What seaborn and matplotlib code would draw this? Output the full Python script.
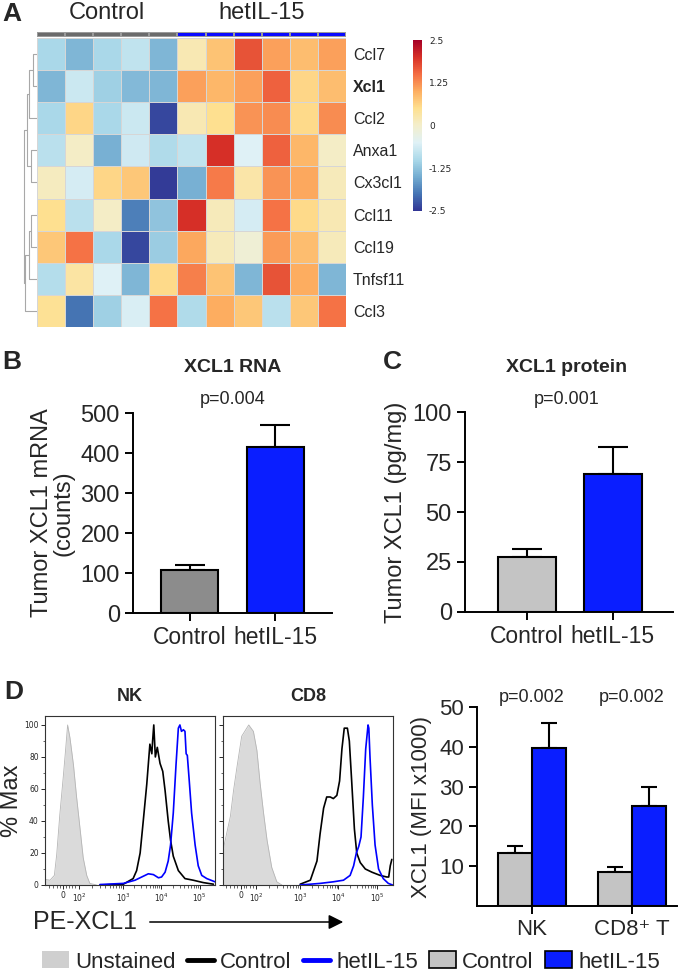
import numpy as np
import pandas as pd
import matplotlib
matplotlib.use("Agg")
import matplotlib.pyplot as plt
import matplotlib.transforms as mtransforms
import seaborn as sns
from matplotlib.colors import ListedColormap, LinearSegmentedColormap
from matplotlib.patches import Patch, FancyArrowPatch
from matplotlib.lines import Line2D

# ---------------- data ----------------
genes = ["Ccl7", "Xcl1", "Ccl2", "Anxa1", "Cx3cl1", "Ccl11", "Ccl19", "Tnfsf11", "Ccl3"]
samples = ["C1", "C2", "C3", "C4", "C5", "H1", "H2", "H3", "H4", "H5", "H6"]
sample_groups = ["Control"] * 5 + ["hetIL-15"] * 6
heat_ccl7 = [-1.0, -1.4, -1.0, -0.8, -1.4, 0.2, 0.8, 1.7, 1.1, 0.85, 1.1]
heat_xcl1 = [-1.4, -0.7, -1.1, -1.35, -1.4, 1.1, 0.9, 1.1, 1.6, 0.6, 0.85]
heat_ccl2 = [-1.0, 0.6, -1.0, -0.7, -2.35, 0.2, 0.5, 1.2, 1.25, 0.55, 1.25]
heat_anxa1 = [-0.85, 0.05, -1.45, -0.65, -0.95, -0.8, 2.0, -0.5, 1.6, 0.9, 0.05]
heat_cx3cl1 = [0.1, -0.6, 0.6, 0.75, -2.45, -1.45, 1.4, 0.3, 1.2, 1.05, 0.15]
heat_ccl11 = [0.5, -0.85, 0.05, -1.9, -1.25, 2.0, 0.15, -0.6, 1.45, 0.55, 0.2]
heat_ccl19 = [0.75, 1.45, -1.0, -2.35, -1.15, 1.05, 0.15, -0.1, 1.15, 0.85, 0.15]
heat_tnfsf11 = [-0.9, 0.35, -0.5, -1.4, 0.55, 1.35, 0.8, -1.4, 1.7, 1.0, -1.4]
heat_ccl3 = [0.45, -2.0, -1.1, -0.55, 1.45, -0.95, 1.0, 0.75, -0.85, 0.75, 1.45]
# dendrogram merges: (node a, node b, height); new nodes numbered from 9
dendro_merges = [(0, 1, 0.28), (3, 4, 0.45), (5, 6, 0.45), (9, 2, 0.65),
                 (11, 7, 0.6), (12, 10, 0.8), (13, 8, 0.92), (14, 15, 1.0)]
cbar_ticks = [2.5, 1.25, 0, -1.25, -2.5]
heat_colors = ["#313695", "#4575b4", "#74add1", "#abd9e9", "#dff1f6", "#f3eecc",
               "#fee090", "#fdae61", "#f46d43", "#d73027", "#a50026"]

rna_groups = ["Control", "hetIL-15"]
rna_mean = [107, 416]
rna_sem = [14, 53]
prot_mean = [27.3, 68.9]
prot_sem = [4.1, 13.5]

mfi_cells = ["NK", "CD8\u207a T"]
mfi_ctrl = [13.4, 8.6]
mfi_ctrl_sem = [1.6, 1.2]
mfi_het = [39.7, 25.1]
mfi_het_sem = [6.3, 4.8]
mfi_p = ["p=0.002", "p=0.002"]

# flow histograms (x in biexponential display units, y in % of max)
flow_tick_pos = [1.47, 1.87, 3.0, 3.98, 4.97]
flow_tick_lab = ["0", "$10^2$", "$10^3$", "$10^4$", "$10^5$"]
nk_uns_x = [1.00, 1.13, 1.24, 1.30, 1.38, 1.47, 1.53, 1.58, 1.64, 1.73, 1.81, 1.90, 1.98, 2.07, 2.15, 2.32]
nk_uns_y = [3.5, 3.0, 6, 19, 44, 68, 85, 100, 92, 75, 55, 35, 17, 6, 1, 0]
nk_ctl_x = [2.41, 3.01, 3.26, 3.35, 3.44, 3.52, 3.61, 3.69, 3.74, 3.76, 3.79, 3.83, 3.88, 3.95, 4.02,
            4.08, 4.16, 4.22, 4.29, 4.42, 4.59, 4.80, 5.06, 5.32]
nk_ctl_y = [0, 0.5, 4, 9, 20, 40, 63, 88, 82, 90, 100, 80, 86, 76, 71, 59, 40, 28, 18, 9, 4, 3, 1.5, 0.5]
nk_het_x = [2.41, 3.01, 3.31, 3.48, 3.65, 3.78, 3.91, 3.99, 4.08, 4.16, 4.22, 4.29, 4.36, 4.42, 4.46,
            4.50, 4.55, 4.59, 4.62, 4.65, 4.70, 4.76, 4.85, 4.93, 5.02, 5.15, 5.36]
nk_het_y = [0.3, 1, 3, 5, 7, 6.5, 4.5, 5, 8, 15, 25, 45, 75, 98, 100, 96, 97, 96, 82, 81, 65, 45, 25, 12, 6, 4, 2]
cd8_uns_x = [1.02, 1.05, 1.21, 1.29, 1.38, 1.50, 1.68, 1.80, 1.89, 1.97, 2.06, 2.15, 2.27, 2.40, 2.53]
cd8_uns_y = [20, 25, 43, 59, 74, 93, 100, 96, 84, 64, 45, 28, 11, 2, 0]
cd8_ctl_x = [3.00, 3.26, 3.43, 3.51, 3.60, 3.68, 3.77, 3.85, 3.94, 4.01, 4.07, 4.13, 4.21, 4.26, 4.32,
             4.39, 4.45, 4.54, 4.67, 4.84, 5.05, 5.22, 5.27, 5.31, 5.35]
cd8_ctl_y = [0.5, 3, 15, 32, 48, 55, 55, 54, 56, 65, 85, 98, 98, 90, 65, 35, 20, 14, 10, 8, 6, 5, 5, 12, 16]
cd8_het_x = [3.00, 3.51, 3.85, 4.11, 4.28, 4.37, 4.44, 4.50, 4.56, 4.62, 4.68, 4.74, 4.76, 4.79, 4.85,
             4.92, 5.01, 5.13, 5.26, 5.37]
cd8_het_y = [0, 1, 2, 3, 6, 12, 20, 24, 30, 55, 85, 100, 98, 80, 50, 25, 10, 4, 1, 0]

# ---------------- style ----------------
sns.set_style("ticks")
plt.rcParams["font.family"] = ["Liberation Sans", "DejaVu Sans"]
plt.rcParams["mathtext.fontset"] = "dejavusans"

W, H = 678, 973
fig = plt.figure(figsize=(W / 100, H / 100), dpi=100)


def add_ax(l, t, r, b):
    return fig.add_axes([l / W, 1 - b / H, (r - l) / W, (b - t) / H])


def ftext(x, y, s, **kw):
    fig.text(x / W, 1 - y / H, s, **kw)


GRAY_D = "#8c8c8c"
GRAY_L = "#c4c4c4"
BLUE = "#0a1eff"

# ---------------- Panel A: heatmap ----------------
heat = pd.DataFrame([heat_ccl7, heat_xcl1, heat_ccl2, heat_anxa1, heat_cx3cl1,
                     heat_ccl11, heat_ccl19, heat_tnfsf11, heat_ccl3],
                    index=genes, columns=samples)
cmap = LinearSegmentedColormap.from_list("rdylbu_custom", heat_colors)
ax_hm = add_ax(37, 38, 346, 327)
ax_cb = add_ax(413, 40, 422, 211)
sns.heatmap(heat, ax=ax_hm, cmap=cmap, vmin=-2.5, vmax=2.5,
            linewidths=0.6, linecolor="#d6d6d6", cbar_ax=ax_cb,
            xticklabels=False, yticklabels=True)
ax_hm.yaxis.tick_right()
ax_hm.tick_params(axis="y", length=0, pad=5, labelsize=11.5, labelrotation=0)
ax_hm.set_xlabel("")
ax_hm.set_ylabel("")
for lab in ax_hm.get_yticklabels():
    lab.set_rotation(0)
    if lab.get_text() == "Xcl1":
        lab.set_fontweight("bold")

cbar = ax_hm.collections[0].colorbar
cbar.set_ticks(cbar_ticks)
cbar.set_ticklabels([f"{t:g}" for t in cbar_ticks])
cbar.outline.set_visible(False)
cbar.ax.tick_params(length=0, labelsize=6.5, pad=5)
for lab in cbar.ax.get_yticklabels():
    lab.set_family("DejaVu Sans")

# annotation bar
ax_ann = add_ax(37, 32, 346, 36.5)
codes = np.array([[0 if g == "Control" else 1 for g in sample_groups]])
sns.heatmap(codes, ax=ax_ann, cmap=ListedColormap(["#6b6b6b", "#0a0aff"]), cbar=False,
            xticklabels=False, yticklabels=False, linewidths=0.3, linecolor="#9a9a9a")

# group headings
blend = mtransforms.blended_transform_factory(ax_hm.transData, fig.transFigure)
for grp in ["Control", "hetIL-15"]:
    idx = [i for i, g in enumerate(sample_groups) if g == grp]
    xc = (min(idx) + max(idx) + 1) / 2
    ax_hm.text(xc, 1 - 13 / H, grp, transform=blend, ha="center", va="center", fontsize=17)

# dendrogram
ax_d = add_ax(22, 38, 37, 327)
pos = {i: (0.0, i + 0.5) for i in range(len(genes))}
for k, (a, b, h) in enumerate(dendro_merges):
    xa, ya = pos[a]
    xb, yb = pos[b]
    ax_d.plot([xa, h, h, xb], [ya, ya, yb, yb], color="#a8a8a8", lw=0.8, solid_capstyle="butt")
    pos[len(genes) + k] = (h, (ya + yb) / 2)
ax_d.set_xlim(1.0 * 15 / 13, 0)
ax_d.set_ylim(len(genes), 0)
ax_d.axis("off")

ftext(2, 14, "A", fontsize=19, fontweight="bold", va="center", ha="left")


# ---------------- bar helpers ----------------
def style_bar_axes(ax, ysize=17, xsize=16.5):
    sns.despine(ax=ax)
    for s in ["left", "bottom"]:
        ax.spines[s].set_linewidth(1.4)
        ax.spines[s].set_color("black")
    ax.tick_params(axis="both", direction="out", length=6, width=1.4, color="black")
    ax.tick_params(axis="y", labelsize=ysize)
    ax.tick_params(axis="x", labelsize=xsize)
    ax.set_xlabel("")


def add_errors(ax, means, sems):
    bars = [p for p in ax.patches if p.get_height() > 0]
    for p in bars:
        h = p.get_height()
        i = int(np.argmin([abs(h - m) for m in means]))
        xc = p.get_x() + p.get_width() / 2
        ax.errorbar([xc], [h], yerr=[[0], [sems[i]]], fmt="none", ecolor="black",
                    elinewidth=1.5, capsize=11 * p.get_width() / 0.67, capthick=1.5, zorder=1)


# ---------------- Panel B ----------------
ax_b = add_ax(133, 413, 332, 613)
df_b = pd.DataFrame({"group": rna_groups, "value": rna_mean})
sns.barplot(data=df_b, x="group", y="value", hue="group", palette=[GRAY_D, BLUE],
            saturation=1, width=0.67, edgecolor="black", linewidth=1.5, errorbar=None,
            legend=False, ax=ax_b, zorder=3)
add_errors(ax_b, rna_mean, rna_sem)
ax_b.set_xlim(-0.67, 1.67)
ax_b.set_ylim(0, 500)
ax_b.set_yticks([0, 100, 200, 300, 400, 500])
style_bar_axes(ax_b)
ax_b.set_ylabel("Tumor XCL1 mRNA\n(counts)", fontsize=17, labelpad=4, linespacing=1.0)
ftext(233, 367, "XCL1 RNA", fontsize=14, fontweight="bold", ha="center", va="center")
ftext(233, 400, "p=0.004", fontsize=13, ha="center", va="center")
ftext(2, 362, "B", fontsize=19, fontweight="bold", va="center", ha="left")

# ---------------- Panel C ----------------
ax_c = add_ax(465, 412, 673, 612)
df_c = pd.DataFrame({"group": rna_groups, "value": prot_mean})
sns.barplot(data=df_c, x="group", y="value", hue="group", palette=[GRAY_L, BLUE],
            saturation=1, width=0.67, edgecolor="black", linewidth=1.5, errorbar=None,
            legend=False, ax=ax_c, zorder=3)
add_errors(ax_c, prot_mean, prot_sem)
ax_c.set_xlim(-0.72, 1.70)
ax_c.set_ylim(0, 100)
ax_c.set_yticks([0, 25, 50, 75, 100])
style_bar_axes(ax_c)
ax_c.set_ylabel("Tumor XCL1 (pg/mg)", fontsize=17, labelpad=4)
ftext(567, 367, "XCL1 protein", fontsize=14, fontweight="bold", ha="center", va="center")
ftext(567, 400, "p=0.001", fontsize=13, ha="center", va="center")
ftext(383, 362, "C", fontsize=19, fontweight="bold", va="center", ha="left")

# ---------------- Panel D: histograms ----------------
def flow_panel(ax, ux, uy, cx, cy, hx, hy, title, show_y):
    ax.fill_between(ux, uy, 0, color="#dadada", lw=0)
    sns.lineplot(x=ux, y=uy, ax=ax, color="#b5b5b5", lw=0.6, sort=False, estimator=None)
    sns.lineplot(x=cx, y=cy, ax=ax, color="black", lw=1.2, sort=False, estimator=None)
    sns.lineplot(x=hx, y=hy, ax=ax, color="#0000ff", lw=1.2, sort=False, estimator=None)
    ax.set_ylim(0, 105.6)
    ax.set_yticks([0, 20, 40, 60, 80, 100])
    ax.set_yticks([10, 30, 50, 70, 90], minor=True)
    ax.set_xticks(flow_tick_pos)
    ax.set_xticklabels(flow_tick_lab)
    minor = [1.1, 1.2, 1.3, 1.38, 1.55, 1.62, 1.7, 1.78]
    for k in range(2, 10):
        minor.append(1.87 + (3.0 - 1.87) * np.log10(k))
        minor.append(3.0 + 0.98 * np.log10(k))
        minor.append(3.98 + 0.99 * np.log10(k))
    ax.set_xticks(minor, minor=True)
    ax.tick_params(axis="both", which="major", length=3, width=0.7, labelsize=5.5, pad=1.5)
    ax.tick_params(axis="both", which="minor", length=1.8, width=0.5)
    if not show_y:
        ax.tick_params(axis="y", which="both", labelleft=False)
    for s in ax.spines.values():
        s.set_linewidth(0.8)
        s.set_color("#333333")
        s.set_visible(True)
    for lab in ax.get_xticklabels() + ax.get_yticklabels():
        lab.set_family("DejaVu Sans")
    ax.set_title(title, fontsize=13, fontweight="bold", pad=11)


ax_nk = add_ax(45, 716, 215, 885)
ax_nk.set_xlim(1.0, 5.36)
flow_panel(ax_nk, nk_uns_x, nk_uns_y, nk_ctl_x, nk_ctl_y, nk_het_x, nk_het_y, "NK", True)
ax_cd = add_ax(223, 716, 393, 885)
ax_cd.set_xlim(1.02, 5.38)
flow_panel(ax_cd, cd8_uns_x, cd8_uns_y, cd8_ctl_x, cd8_ctl_y, cd8_het_x, cd8_het_y, "CD8", False)
ax_nk.set_ylabel("% Max", fontsize=17, labelpad=1)

ftext(33, 922, "PE-XCL1", fontsize=18, ha="left", va="center")
fig.add_artist(FancyArrowPatch(posA=(147 / W, 1 - 922 / H), posB=(346 / W, 1 - 922 / H),
                               transform=fig.transFigure, arrowstyle="-|>",
                               mutation_scale=22, lw=1.1, color="black"))
ftext(4, 692, "D", fontsize=19, fontweight="bold", va="center", ha="left")

# ---------------- Panel D: MFI bars ----------------
ax_e = add_ax(477, 707, 677, 906)
df_e = pd.DataFrame({
    "cell": mfi_cells * 2,
    "cond": ["Control"] * len(mfi_cells) + ["hetIL-15"] * len(mfi_cells),
    "value": mfi_ctrl + mfi_het,
})
sns.barplot(data=df_e, x="cell", y="value", hue="cond", palette=[GRAY_L, BLUE],
            saturation=1, width=0.68, edgecolor="black", linewidth=1.5, errorbar=None,
            legend=False, ax=ax_e, zorder=3)
add_errors(ax_e, mfi_ctrl + mfi_het, mfi_ctrl_sem + mfi_het_sem)
ax_e.set_xlim(-0.55, 1.45)
ax_e.set_ylim(0, 50)
ax_e.set_yticks([10, 20, 30, 40, 50])
style_bar_axes(ax_e, ysize=16, xsize=16)
ax_e.set_ylabel("XCL1 (MFI x1000)", fontsize=16, labelpad=5)
for i, p in enumerate(mfi_p):
    ax_e.text(i, 52.5, p, ha="center", va="center", fontsize=13, clip_on=False)

# ---------------- bottom legend ----------------
handles = [
    Patch(facecolor="#cfcfcf", edgecolor="none", label="Unstained"),
    Line2D([0], [0], color="black", lw=3.5, label="Control"),
    Line2D([0], [0], color="#0000ff", lw=3.5, label="hetIL-15"),
    Patch(facecolor=GRAY_L, edgecolor="black", lw=1.2, label="Control"),
    Patch(facecolor=BLUE, edgecolor="black", lw=1.2, label="hetIL-15"),
]
fig.legend(handles=handles, loc="center", bbox_to_anchor=(351 / W, 1 - 962 / H), ncol=5,
           frameon=False, fontsize=16, handlelength=1.2, handleheight=0.8,
           handletextpad=0.3, columnspacing=0.5, borderpad=0)

fig.savefig("out.png", dpi=100)
